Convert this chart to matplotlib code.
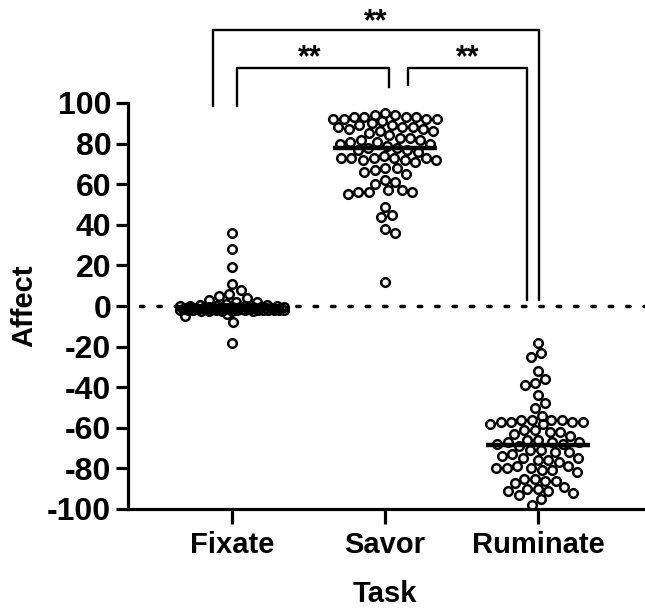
import numpy as np
import matplotlib.pyplot as plt

plt.rcParams['font.family'] = ['Liberation Sans', 'DejaVu Sans']
plt.rcParams['font.weight'] = 'bold'

tasks = ['Fixate', 'Savor', 'Ruminate']

fixate = [36, 28, 19, 11, 8, 6, 5, 4, 3, 2, 2, 1,
          0.5, 0.3, 0.2, 0, 0, -0.2, -0.3, -0.5, -0.5, -0.6, -0.8, -0.8,
          -1, -1, -1, -1.1, -1.2, -1.2, -1.3, -1.4, -1.5, -1.5, -1.6, -1.7,
          -1.8, -1.8, -1.9, -2, -2, -2.1, -2.2, -2.2, -2.3, -2.4, -2.5, -2.5,
          -1, -1.5, -0.7, -1.3, -2, -1.8, -0.4, -0.9, -1.1, -1.6, -2.3, -0.1,
          -1.2, -1.9, -0.6, -1.4, -2.1,
          -4, -5, -8, -18]
savor = [93, 92, 92, 94, 95, 93, 92, 94, 93, 92, 91, 93,
         89, 88, 87, 90, 88, 86, 89, 87, 85, 88, 86,
         84, 83, 82, 81, 80, 82, 83, 81, 80, 79,
         78, 77, 76, 78, 77,
         73, 73, 73, 72, 73, 74, 72, 73, 72, 71,
         68, 67, 66, 65, 68,
         62, 60, 61,
         57, 56, 56, 56, 55, 57,
         49, 45, 44, 38, 36, 12]
ruminate = [-18, -23, -25, -32, -36, -38, -39, -44, -48, -50, -54,
            -56, -57, -57, -56, -58, -57, -56, -57, -58, -56,
            -61, -62, -63, -61, -64, -62,
            -66, -67, -68, -67, -69, -68, -66, -67,
            -71, -72, -72, -73, -71,
            -75, -76, -77, -75, -76, -74,
            -79, -80, -81, -80, -81, -80, -82, -79,
            -85, -86, -87, -86, -85,
            -89, -90, -91, -92, -90, -91,
            -93, -95, -98]
groups = [fixate, savor, ruminate]
medians = [np.median(g) for g in groups]
yticks = list(range(-100, 101, 20))


def swarm(ax, vals, center, diam=10.5, half=50):
    # simple beeswarm in pixel space, overlapping when out of room
    tr = ax.transData
    cx = tr.transform((center, 0))[0]
    order = np.argsort(vals)[::-1]
    placed = []
    xs = np.zeros(len(vals))
    for i in order:
        ypx = tr.transform((center, vals[i]))[1]
        cands = [0.0]
        for px, py in placed:
            dy = abs(py - ypx)
            if dy < diam:
                dx = np.sqrt(diam**2 - dy**2)
                cands += [px + dx, px - dx]
        cands = sorted(cands, key=abs)
        best = None
        for c in cands:
            if abs(c) > half:
                continue
            if all((c - px)**2 + (ypx - py)**2 >= diam**2 - 1e-6 for px, py in placed):
                best = c
                break
        if best is None:
            grid = np.linspace(-half, half, 41)
            score = [min((g - px)**2 + (ypx - py)**2 for px, py in placed) for g in grid]
            best = grid[int(np.argmax(score))]
        placed.append((best, ypx))
        xs[i] = tr.inverted().transform((cx + best, ypx))[0]
    return xs


fig = plt.figure(figsize=(6.45, 6.09), dpi=100)
ax = fig.add_axes([128/645, 100/609, 517/645, 406/609])
ax.set_xlim(-0.68, 2.70)
ax.set_ylim(-100, 100)

ax.plot([-0.6, 2.7], [0, 0], color='black', lw=2.5, ls=(0, (1, 4)),
        dash_capstyle='round', zorder=1)

for k, vals in enumerate(groups):
    xs = swarm(ax, vals, k, half=52)
    ax.plot(xs, vals, 'o', ms=6.2, mfc='none', mec='black', mew=1.8, zorder=3)
    ax.plot([k - 0.34, k + 0.34], [medians[k]] * 2, color='black', lw=3.2,
            solid_capstyle='butt', zorder=4)

for s in ['top', 'right']:
    ax.spines[s].set_visible(False)
for s in ['left', 'bottom']:
    ax.spines[s].set_linewidth(2.3)
ax.spines['bottom'].set_zorder(5)

ax.set_yticks(yticks)
ax.set_yticklabels([str(t) for t in yticks], fontsize=23, fontweight='bold')
ax.set_xticks(range(3))
ax.set_xticklabels(tasks, fontsize=21, fontweight='bold')
ax.tick_params(axis='y', length=9, width=2.3, pad=3)
ax.tick_params(axis='x', length=11, width=2.3, pad=5)

ax.set_xlabel('Task', fontsize=21, fontweight='bold', va='center')
ax.xaxis.set_label_coords(0.497, -0.21)
ax.set_ylabel('Affect', fontsize=21, fontweight='bold', va='center')
ax.yaxis.set_label_coords(-0.2, 0.5)

# significance brackets
br = dict(color='black', lw=1.7, clip_on=False)
ax.plot([-0.124, -0.124, 2.01, 2.01], [98.5, 136, 136, 3], **br)
ax.plot([0.033, 0.033, 1.026, 1.026], [98.5, 117, 117, 108], **br)
ax.plot([1.15, 1.15, 1.93, 1.93], [109, 117, 117, 3], **br)
ax.text(0.94, 140, '**', ha='center', va='center', fontsize=22, fontweight='bold')
ax.text(0.51, 122, '**', ha='center', va='center', fontsize=22, fontweight='bold')
ax.text(1.54, 122, '**', ha='center', va='center', fontsize=22, fontweight='bold')

fig.savefig('out.png', dpi=100)
